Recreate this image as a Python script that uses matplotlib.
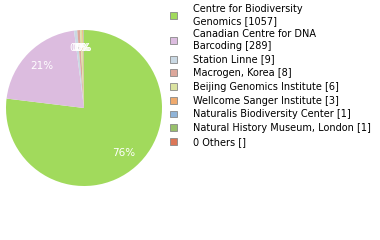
import matplotlib
matplotlib.use("Agg")
import matplotlib.pyplot as plt
from matplotlib.patches import Patch

labels = ["Centre for Biodiversity\nGenomics [1057]", "Canadian Centre for DNA\nBarcoding [289]",
          "Station Linne [9]", "Macrogen, Korea [8]", "Beijing Genomics Institute [6]",
          "Wellcome Sanger Institute [3]", "Naturalis Biodiversity Center [1]",
          "Natural History Museum, London [1]", "0 Others []"]
values = [1057, 289, 9, 8, 6, 3, 1, 1, 0]
colors = ["#a1da5c", "#dcbcdf", "#c9d8e3", "#dca79b", "#dbe3a1", "#efaa6e", "#90b4d8", "#98c06c", "#dc7657"]

fig = plt.figure(figsize=(3.8, 2.4), dpi=100)
ax = fig.add_axes([6/380, 54/240, 156/380, 156/240])
ax.pie(values[:-1], colors=colors[:-1], startangle=90, counterclock=False,
       autopct=lambda p: f"{int(p)}%", pctdistance=0.77,
       textprops=dict(color="white", fontsize=7.5, family="DejaVu Sans"),
       wedgeprops=dict(linewidth=0))
ax.set_aspect("equal")
ax.set_xlim(-1, 1); ax.set_ylim(-1, 1)

handles = [Patch(facecolor=c, edgecolor="#888888", linewidth=0.6) for c in colors]
fig.legend(handles, labels, loc="upper left", bbox_to_anchor=(170/380, 1 - 4/240),
           frameon=False, fontsize=7.0, handlelength=0.72, handleheight=0.72,
           handletextpad=1.65, labelspacing=0.38, borderaxespad=0, borderpad=0)
fig.savefig("out.png", dpi=100)
